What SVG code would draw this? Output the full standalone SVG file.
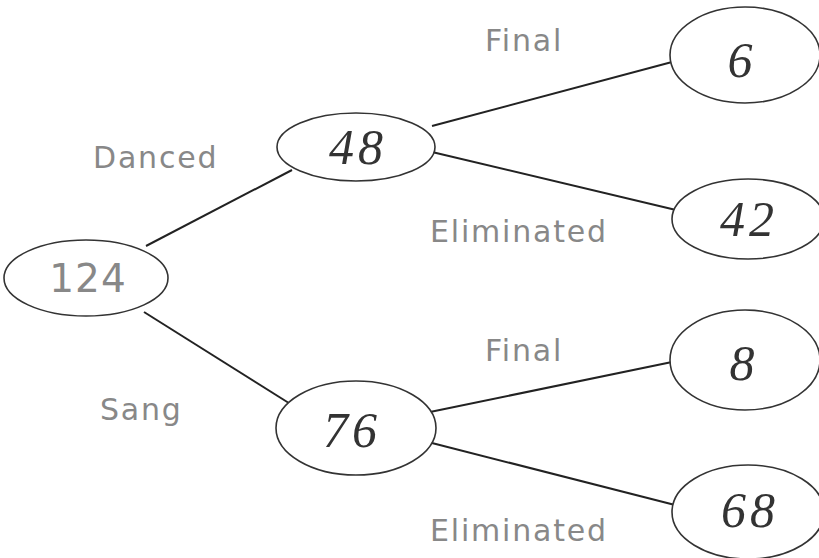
<svg xmlns="http://www.w3.org/2000/svg" width="819" height="558" viewBox="0 0 819 558">
<style>
.n{fill:#fff;stroke:#333;stroke-width:1.6}
.c line{stroke:#222;stroke-width:2}
.lab{font-family:"DejaVu Sans","Liberation Sans",sans-serif;font-size:30px;letter-spacing:1.8px;fill:#888}
.hw{font-family:"Liberation Serif",serif;font-style:italic;font-size:50px;fill:#333;text-anchor:middle;letter-spacing:4px}
</style>
<rect width="819" height="558" fill="#fff"/>
<g class="c">
<line x1="146" y1="246" x2="292" y2="170"/>
<line x1="144" y1="312" x2="292" y2="405"/>
<line x1="432" y1="126" x2="672" y2="62"/>
<line x1="432" y1="152" x2="676" y2="210"/>
<line x1="430" y1="412" x2="672" y2="362"/>
<line x1="428" y1="442" x2="675" y2="505"/>
</g>
<g id="n124"><ellipse class="n" cx="86" cy="278" rx="82" ry="38"/><text x="88" y="292" text-anchor="middle" style="font-family:'DejaVu Sans',sans-serif;font-size:39px;letter-spacing:1px;fill:#888">124</text></g>
<g id="n48"><ellipse class="n" cx="356" cy="147" rx="79" ry="34"/><text class="hw" x="358" y="164">48</text></g>
<g id="n6"><ellipse class="n" cx="745" cy="55" rx="75" ry="48"/><text class="hw" x="742" y="77">6</text></g>
<g id="n42"><ellipse class="n" cx="748" cy="219" rx="76" ry="40"/><text class="hw" x="749" y="236">42</text></g>
<g id="n76"><ellipse class="n" cx="356" cy="428" rx="80" ry="47"/><text class="hw" x="352" y="447">76</text></g>
<g id="n8"><ellipse class="n" cx="745" cy="360" rx="75" ry="50"/><text class="hw" x="744" y="380">8</text></g>
<g id="n68"><ellipse class="n" cx="748" cy="512" rx="76" ry="47"/><text class="hw" x="750" y="527">68</text></g>
<text class="lab" x="93" y="168">Danced</text>
<text class="lab" x="100" y="420">Sang</text>
<text class="lab" x="485" y="51">Final</text>
<text class="lab" x="430" y="242">Eliminated</text>
<text class="lab" x="485" y="361">Final</text>
<text class="lab" x="430" y="541">Eliminated</text>
</svg>
